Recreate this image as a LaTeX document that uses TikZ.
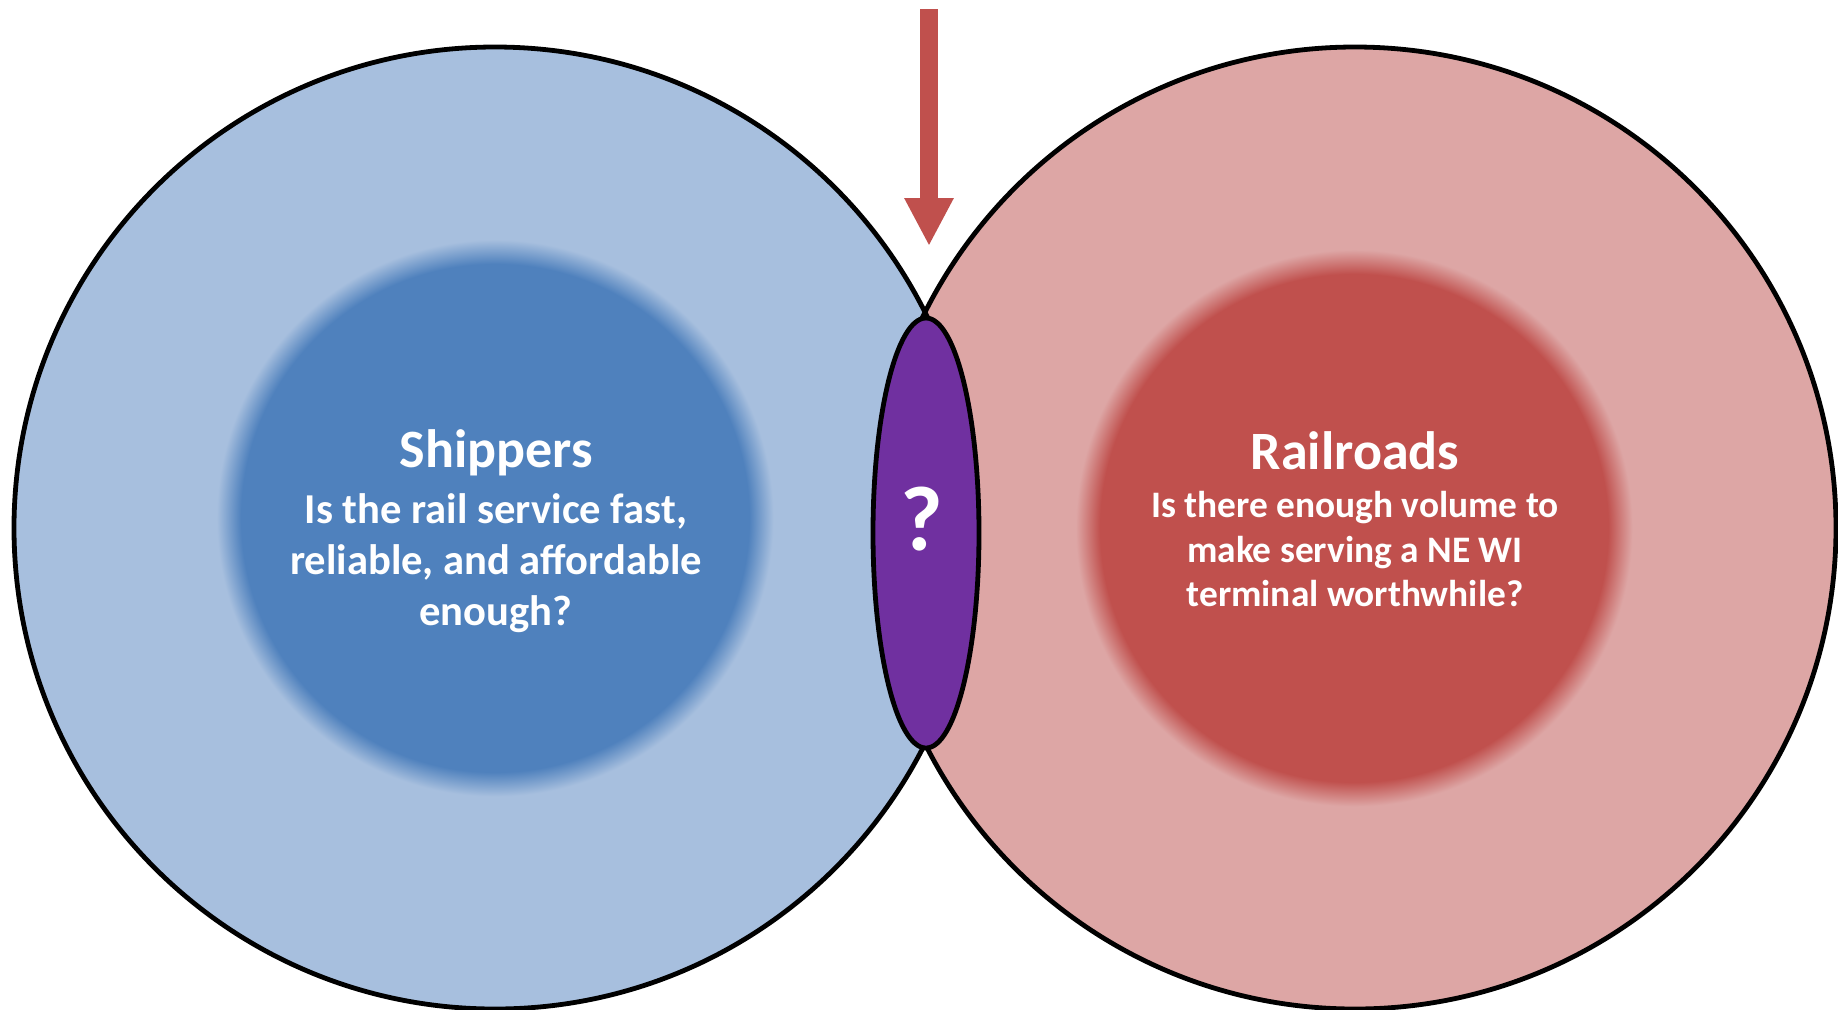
\documentclass[tikz,border=0pt]{standalone}
\usepackage{fontspec}
\setmainfont{Carlito}
\usetikzlibrary{arrows.meta}
\definecolor{outerblue}{HTML}{A7BFDE}
\definecolor{innerblue}{HTML}{4F81BD}
\definecolor{outerred}{HTML}{DDA6A5}
\definecolor{innerred}{HTML}{C0504D}
\definecolor{lenspurple}{HTML}{7030A0}
\pgfdeclareradialshading{blueblur}{\pgfpoint{0bp}{0bp}}{color(0bp)=(innerblue); color(21.9bp)=(innerblue); color(24.0bp)=(outerblue); color(50bp)=(outerblue)}
\pgfdeclareradialshading{redblur}{\pgfpoint{0bp}{0bp}}{color(0bp)=(innerred); color(21.9bp)=(innerred); color(24.0bp)=(outerred); color(50bp)=(outerred)}
\begin{document}
\begin{tikzpicture}[x=0.5pt,y=-0.5pt,
  ring/.style={draw=black, line width=2.4pt},
  whitelabel/.style={text=white, align=center, inner sep=0pt},
  bigarrow/.style={draw=innerred, line width=9pt, -{Triangle[width=23pt,length=24pt]}}]
\useasboundingbox (0,0) rectangle (1838,1009);
\fill[white] (0,0) rectangle (1838,1009);
% circles
\fill[outerblue] (495,528) circle[radius=481];
\shade[shading=blueblur] (495,518) circle[radius=290];
\fill[outerred] (1355,528) circle[radius=481];
\shade[shading=redblur] (1354,528) circle[radius=290];
\draw[ring] (495,528) circle[radius=481];
\draw[ring] (1355,528) circle[radius=481];
% lens
\draw[ring, fill=lenspurple] (926,533) ellipse[x radius=53, y radius=215];
\node[whitelabel, font=\bfseries\fontsize{46}{46}\selectfont] (q) at (922,519) {?};
% arrow
\coordinate (arrowtop) at (929,9);
\coordinate (arrowtip) at (929,246);
\draw[bigarrow] (arrowtop) -- (arrowtip);
% texts
\node[whitelabel, font=\bfseries\fontsize{21.3}{25.6}\selectfont] (shippers) at (496,531)
  {{\fontsize{27}{27}\selectfont Shippers}\\[2.5pt]
   Is the rail service fast,\\
   reliable, and affordable\\
   enough?};
\node[whitelabel, font=\bfseries\fontsize{18.7}{22.2}\selectfont] (railroads) at (1355,519)
  {{\fontsize{27}{27}\selectfont Railroads}\\[2pt]
   Is there enough volume to\\
   make serving a NE WI\\
   terminal worthwhile?};
\end{tikzpicture}
\end{document}
